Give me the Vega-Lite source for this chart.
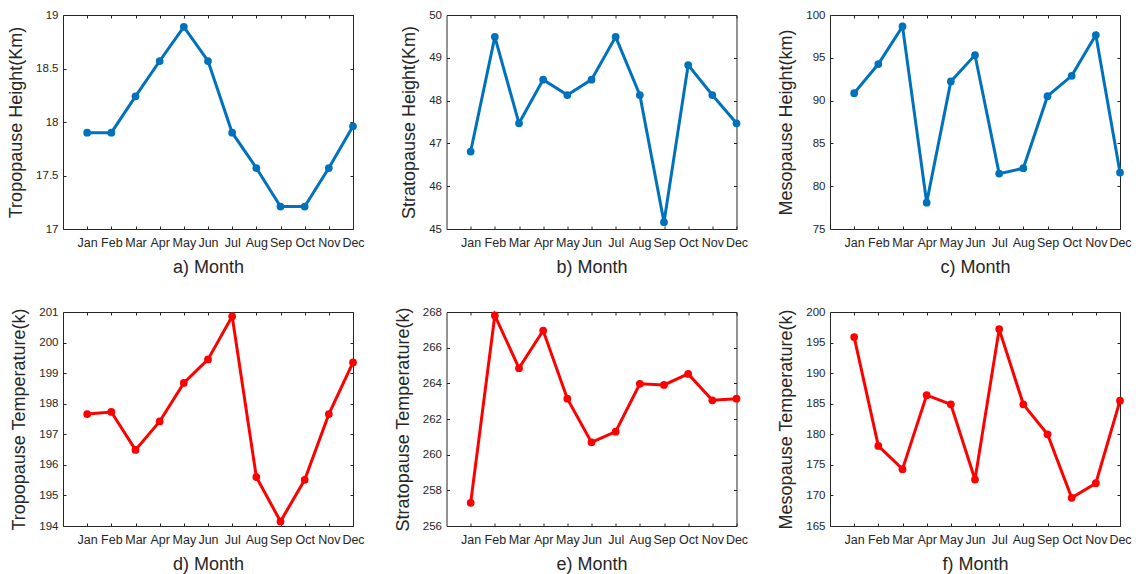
{
  "$schema": "https://vega.github.io/schema/vega-lite/v6.json",
  "padding": {"left": 7, "top": 8, "right": 5, "bottom": 5},
  "background": "white",
  "data": {"values": [
    {"month": 1, "name": "Jan", "th": 17.90, "sh": 46.81, "mh": 90.87, "tt": 197.66, "st": 257.30, "mt": 195.9},
    {"month": 2, "name": "Feb", "th": 17.90, "sh": 49.49, "mh": 94.27, "tt": 197.73, "st": 267.81, "mt": 178.1},
    {"month": 3, "name": "Mar", "th": 18.24, "sh": 47.47, "mh": 98.67, "tt": 196.49, "st": 264.85, "mt": 174.3},
    {"month": 4, "name": "Apr", "th": 18.57, "sh": 48.49, "mh": 78.08, "tt": 197.42, "st": 266.96, "mt": 186.4},
    {"month": 5, "name": "May", "th": 18.89, "sh": 48.13, "mh": 92.24, "tt": 198.68, "st": 263.14, "mt": 184.9},
    {"month": 6, "name": "Jun", "th": 18.57, "sh": 48.49, "mh": 95.32, "tt": 199.45, "st": 260.69, "mt": 172.6},
    {"month": 7, "name": "Jul", "th": 17.90, "sh": 49.49, "mh": 81.47, "tt": 200.86, "st": 261.29, "mt": 197.2},
    {"month": 8, "name": "Aug", "th": 17.57, "sh": 48.13, "mh": 82.10, "tt": 195.60, "st": 263.97, "mt": 184.9},
    {"month": 9, "name": "Sep", "th": 17.21, "sh": 45.16, "mh": 90.52, "tt": 194.15, "st": 263.91, "mt": 180.0},
    {"month": 10, "name": "Oct", "th": 17.21, "sh": 48.83, "mh": 92.90, "tt": 195.51, "st": 264.53, "mt": 169.6},
    {"month": 11, "name": "Nov", "th": 17.57, "sh": 48.13, "mh": 97.66, "tt": 197.66, "st": 263.05, "mt": 172.0},
    {"month": 12, "name": "Dec", "th": 17.96, "sh": 47.47, "mh": 81.59, "tt": 199.35, "st": 263.14, "mt": 185.5}
  ]},
  "columns": 3,
  "spacing": {"row": 83, "column": 93.5},
  "bounds": "flush",
  "concat": [
    {
      "width": 290, "height": 214,
      "layer": [
        {"mark": {"type": "line", "color": "#0072BD", "strokeWidth": 3},
         "encoding": {
           "x": {"field": "month", "type": "quantitative", "scale": {"domain": [0, 12], "nice": false, "zero": false},
                 "axis": {"orient": "bottom", "title": "a) Month", "values": [1,2,3,4,5,6,7,8,9,10,11,12], "labelExpr": "['Jan','Feb','Mar','Apr','May','Jun','Jul','Aug','Sep','Oct','Nov','Dec'][datum.value-1]"}},
           "y": {"field": "th", "type": "quantitative", "scale": {"domain": [17, 19], "nice": false, "zero": false},
                 "axis": {"orient": "left", "title": "Tropopause Height(Km)", "values": [17, 17.5, 18, 18.5, 19], "format": "~f"}}}},
        {"mark": {"type": "point", "filled": true, "color": "#0072BD", "size": 60, "opacity": 1},
         "encoding": {
           "x": {"field": "month", "type": "quantitative", "scale": {"domain": [0, 12], "nice": false, "zero": false},
                 "axis": {"orient": "top", "title": null, "labels": false, "values": [1,2,3,4,5,6,7,8,9,10,11,12]}},
           "y": {"field": "th", "type": "quantitative", "scale": {"domain": [17, 19], "nice": false, "zero": false},
                 "axis": {"orient": "right", "title": null, "labels": false, "values": [17, 17.5, 18, 18.5, 19]}}}}
      ],
      "resolve": {"axis": {"x": "independent", "y": "independent"}}
    },
    {
      "width": 290, "height": 214,
      "layer": [
        {"mark": {"type": "line", "color": "#0072BD", "strokeWidth": 3},
         "encoding": {
           "x": {"field": "month", "type": "quantitative", "scale": {"domain": [0, 12], "nice": false, "zero": false},
                 "axis": {"orient": "bottom", "title": "b) Month", "values": [1,2,3,4,5,6,7,8,9,10,11,12], "labelExpr": "['Jan','Feb','Mar','Apr','May','Jun','Jul','Aug','Sep','Oct','Nov','Dec'][datum.value-1]"}},
           "y": {"field": "sh", "type": "quantitative", "scale": {"domain": [45, 50], "nice": false, "zero": false},
                 "axis": {"orient": "left", "title": "Stratopause Height(Km)", "values": [45, 46, 47, 48, 49, 50], "format": "~f"}}}},
        {"mark": {"type": "point", "filled": true, "color": "#0072BD", "size": 60, "opacity": 1},
         "encoding": {
           "x": {"field": "month", "type": "quantitative", "scale": {"domain": [0, 12], "nice": false, "zero": false},
                 "axis": {"orient": "top", "title": null, "labels": false, "values": [1,2,3,4,5,6,7,8,9,10,11,12]}},
           "y": {"field": "sh", "type": "quantitative", "scale": {"domain": [45, 50], "nice": false, "zero": false},
                 "axis": {"orient": "right", "title": null, "labels": false, "values": [45, 46, 47, 48, 49, 50]}}}}
      ],
      "resolve": {"axis": {"x": "independent", "y": "independent"}}
    },
    {
      "width": 290, "height": 214,
      "layer": [
        {"mark": {"type": "line", "color": "#0072BD", "strokeWidth": 3},
         "encoding": {
           "x": {"field": "month", "type": "quantitative", "scale": {"domain": [0, 12], "nice": false, "zero": false},
                 "axis": {"orient": "bottom", "title": "c) Month", "values": [1,2,3,4,5,6,7,8,9,10,11,12], "labelExpr": "['Jan','Feb','Mar','Apr','May','Jun','Jul','Aug','Sep','Oct','Nov','Dec'][datum.value-1]"}},
           "y": {"field": "mh", "type": "quantitative", "scale": {"domain": [75, 100], "nice": false, "zero": false},
                 "axis": {"orient": "left", "title": "Mesopause Height(km)", "values": [75, 80, 85, 90, 95, 100], "format": "~f"}}}},
        {"mark": {"type": "point", "filled": true, "color": "#0072BD", "size": 60, "opacity": 1},
         "encoding": {
           "x": {"field": "month", "type": "quantitative", "scale": {"domain": [0, 12], "nice": false, "zero": false},
                 "axis": {"orient": "top", "title": null, "labels": false, "values": [1,2,3,4,5,6,7,8,9,10,11,12]}},
           "y": {"field": "mh", "type": "quantitative", "scale": {"domain": [75, 100], "nice": false, "zero": false},
                 "axis": {"orient": "right", "title": null, "labels": false, "values": [75, 80, 85, 90, 95, 100]}}}}
      ],
      "resolve": {"axis": {"x": "independent", "y": "independent"}}
    },
    {
      "width": 290, "height": 214,
      "layer": [
        {"mark": {"type": "line", "color": "#FF0000", "strokeWidth": 3},
         "encoding": {
           "x": {"field": "month", "type": "quantitative", "scale": {"domain": [0, 12], "nice": false, "zero": false},
                 "axis": {"orient": "bottom", "title": "d) Month", "values": [1,2,3,4,5,6,7,8,9,10,11,12], "labelExpr": "['Jan','Feb','Mar','Apr','May','Jun','Jul','Aug','Sep','Oct','Nov','Dec'][datum.value-1]"}},
           "y": {"field": "tt", "type": "quantitative", "scale": {"domain": [194, 201], "nice": false, "zero": false},
                 "axis": {"orient": "left", "title": "Tropopause Temperature(k)", "values": [194, 195, 196, 197, 198, 199, 200, 201], "format": "~f"}}}},
        {"mark": {"type": "point", "filled": true, "color": "#FF0000", "size": 60, "opacity": 1},
         "encoding": {
           "x": {"field": "month", "type": "quantitative", "scale": {"domain": [0, 12], "nice": false, "zero": false},
                 "axis": {"orient": "top", "title": null, "labels": false, "values": [1,2,3,4,5,6,7,8,9,10,11,12]}},
           "y": {"field": "tt", "type": "quantitative", "scale": {"domain": [194, 201], "nice": false, "zero": false},
                 "axis": {"orient": "right", "title": null, "labels": false, "values": [194, 195, 196, 197, 198, 199, 200, 201]}}}}
      ],
      "resolve": {"axis": {"x": "independent", "y": "independent"}}
    },
    {
      "width": 290, "height": 214,
      "layer": [
        {"mark": {"type": "line", "color": "#FF0000", "strokeWidth": 3},
         "encoding": {
           "x": {"field": "month", "type": "quantitative", "scale": {"domain": [0, 12], "nice": false, "zero": false},
                 "axis": {"orient": "bottom", "title": "e) Month", "values": [1,2,3,4,5,6,7,8,9,10,11,12], "labelExpr": "['Jan','Feb','Mar','Apr','May','Jun','Jul','Aug','Sep','Oct','Nov','Dec'][datum.value-1]"}},
           "y": {"field": "st", "type": "quantitative", "scale": {"domain": [256, 268], "nice": false, "zero": false},
                 "axis": {"orient": "left", "title": "Stratopause Temperature(k)", "values": [256, 258, 260, 262, 264, 266, 268], "format": "~f"}}}},
        {"mark": {"type": "point", "filled": true, "color": "#FF0000", "size": 60, "opacity": 1},
         "encoding": {
           "x": {"field": "month", "type": "quantitative", "scale": {"domain": [0, 12], "nice": false, "zero": false},
                 "axis": {"orient": "top", "title": null, "labels": false, "values": [1,2,3,4,5,6,7,8,9,10,11,12]}},
           "y": {"field": "st", "type": "quantitative", "scale": {"domain": [256, 268], "nice": false, "zero": false},
                 "axis": {"orient": "right", "title": null, "labels": false, "values": [256, 258, 260, 262, 264, 266, 268]}}}}
      ],
      "resolve": {"axis": {"x": "independent", "y": "independent"}}
    },
    {
      "width": 290, "height": 214,
      "layer": [
        {"mark": {"type": "line", "color": "#FF0000", "strokeWidth": 3},
         "encoding": {
           "x": {"field": "month", "type": "quantitative", "scale": {"domain": [0, 12], "nice": false, "zero": false},
                 "axis": {"orient": "bottom", "title": "f) Month", "values": [1,2,3,4,5,6,7,8,9,10,11,12], "labelExpr": "['Jan','Feb','Mar','Apr','May','Jun','Jul','Aug','Sep','Oct','Nov','Dec'][datum.value-1]"}},
           "y": {"field": "mt", "type": "quantitative", "scale": {"domain": [165, 200], "nice": false, "zero": false},
                 "axis": {"orient": "left", "title": "Mesopause Temperature(k)", "values": [165, 170, 175, 180, 185, 190, 195, 200], "format": "~f"}}}},
        {"mark": {"type": "point", "filled": true, "color": "#FF0000", "size": 60, "opacity": 1},
         "encoding": {
           "x": {"field": "month", "type": "quantitative", "scale": {"domain": [0, 12], "nice": false, "zero": false},
                 "axis": {"orient": "top", "title": null, "labels": false, "values": [1,2,3,4,5,6,7,8,9,10,11,12]}},
           "y": {"field": "mt", "type": "quantitative", "scale": {"domain": [165, 200], "nice": false, "zero": false},
                 "axis": {"orient": "right", "title": null, "labels": false, "values": [165, 170, 175, 180, 185, 190, 195, 200]}}}}
      ],
      "resolve": {"axis": {"x": "independent", "y": "independent"}}
    }
  ],
  "config": {
    "font": "Liberation Sans",
    "view": {"stroke": "#262626", "strokeWidth": 1},
    "axis": {
      "domain": false, "grid": false,
      "tickColor": "#262626", "tickSize": -3, "tickWidth": 1,
      "labelColor": "#262626", "labelFont": "Liberation Sans",
      "titleFont": "Liberation Sans", "titleFontSize": 18, "titleFontWeight": "normal", "titleColor": "#262626"
    },
    "axisBottom": {"labelFontSize": 12.5, "labelPadding": 10, "titlePadding": 10, "labelOverlap": false, "labelFlush": false, "labelBound": false},
    "axisLeft": {"labelFontSize": 11.5, "labelPadding": 8, "titlePadding": 10, "labelOverlap": false, "labelFlush": false, "labelBound": false}
  }
}
